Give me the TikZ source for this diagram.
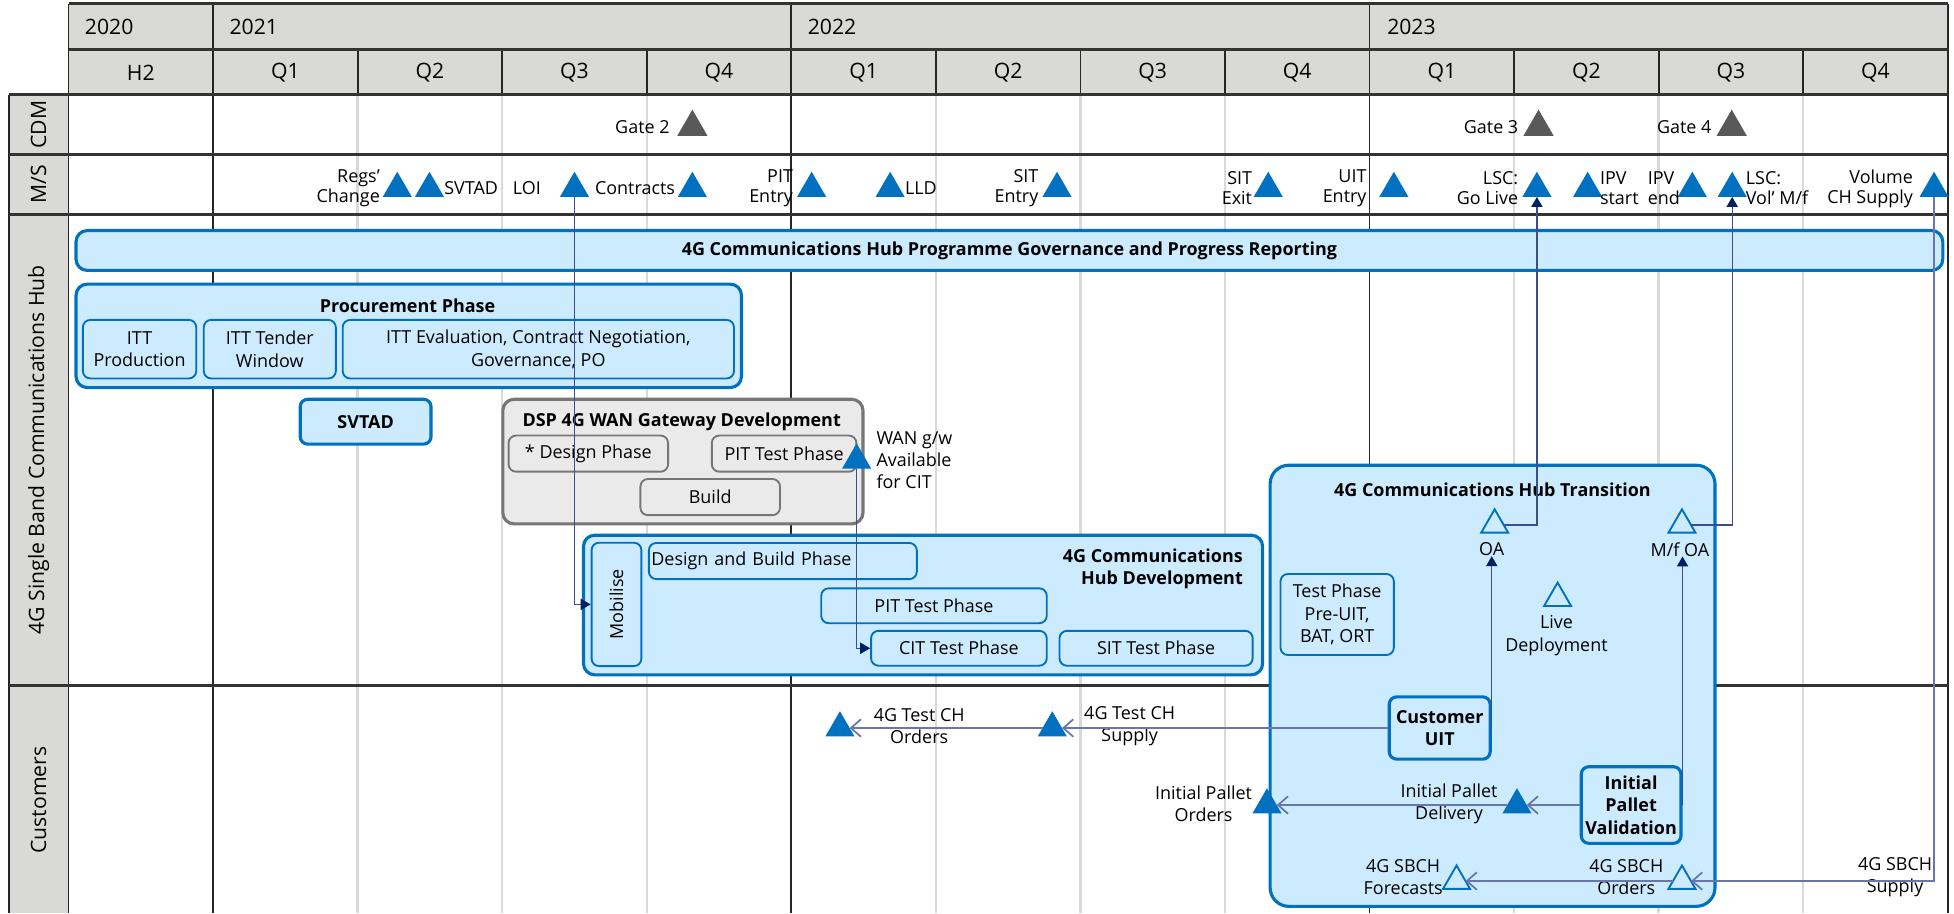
\documentclass[tikz,border=0pt]{standalone}
\usepackage{fontspec}
\setmainfont{Open Sans}
\usepackage{xcolor}
\usepackage{tikz}
\usetikzlibrary{arrows.meta}
\usetikzlibrary{positioning}
\usetikzlibrary{shapes.geometric}
\definecolor{hdr}{RGB}{217,218,216}
\definecolor{grd}{RGB}{217,217,217}
\definecolor{bfill}{RGB}{204,235,255}
\definecolor{bline}{RGB}{0,112,192}
\definecolor{gfill}{RGB}{234,234,234}
\definecolor{gline}{RGB}{118,118,118}
\definecolor{gatec}{RGB}{89,89,89}
\definecolor{conn}{RGB}{60,76,145}
\definecolor{tipc}{RGB}{0,32,96}
\definecolor{slate}{RGB}{105,118,170}
\newcommand{\ftbody}{\fontsize{14.4}{18}\selectfont}
\newcommand{\ftms}{\fontsize{14.4}{16}\selectfont}
\newcommand{\fthd}{\fontsize{17}{20}\selectfont}
\newcommand{\ftside}{\fontsize{17}{20}\selectfont}
\tikzset{
    msm/.style = {regular polygon, regular polygon sides=3, fill=bline, minimum size=27pt, inner sep=0pt, outer sep=0pt},
    gatem/.style = {msm, fill=gatec, minimum size=28pt},
    openm/.style = {regular polygon, regular polygon sides=3, draw=bline, line width=1.5pt, fill=bfill, minimum size=25pt, inner sep=0pt, outer sep=0pt},
    lbl/.style = {font=\ftbody, inner sep=0pt, align=center},
    mslbl/.style = {font=\ftms, inner sep=0pt},
    hdlbl/.style = {font=\fthd, inner sep=0pt},
    sidelbl/.style = {font=\ftside, inner sep=0pt, rotate=90},
    ttl/.style = {lbl, font=\ftbody\bfseries},
    grpbox/.style = {draw=bline, line width=2.5pt, fill=bfill, rounded corners=9pt, inner sep=0pt, font=\ftbody\bfseries, align=center},
    subbox/.style = {lbl, draw=bline, line width=1.5pt, fill=bfill, rounded corners=6pt},
    keybox/.style = {subbox, line width=2.5pt, font=\ftbody\bfseries},
    ggrpbox/.style = {grpbox, draw=gline, fill=gfill},
    gsubbox/.style = {subbox, draw=gline, fill=gfill},
    flowln/.style = {conn, line width=1pt, -{Triangle[length=8pt, width=9pt, color=tipc]}},
    feedln/.style = {slate, line width=1.4pt, -{Straight Barb[length=8pt, width=14pt]}},
    >=Latex
}
\begin{document}
\begin{tikzpicture}[x=1pt, y=-1pt]
\useasboundingbox (0,0) rectangle (1568,733);
\fill[hdr] (55,3) rectangle (1563,76);
\fill[hdr] (7,76) rectangle (55,733);
\foreach \x in {287,403,519,751,867,983,1215,1331,1447} {
    \draw[grd, line width=2pt] (\x,76) -- (\x,733);
    \draw[black!85, line width=1.5pt] (\x,40) -- (\x,76);
}
\foreach \x in {55,171,635,1099,1563} {
    \draw[black!85, line width=1.5pt] (\x,3) -- (\x,733);
}
\draw[black!85, line width=1.5pt] (7,76) -- (7,733);
\foreach \y in {3,40} {
    \draw[black!80, line width=2.4pt] (55,\y) -- (1563,\y);
}
\foreach \y in {76,124,172,550} {
    \draw[black!80, line width=2.4pt] (7,\y) -- (1563,\y);
}
\node[hdlbl, anchor=west] (y20) at (68,22) {2020};
\node[hdlbl, anchor=west] (y21) at (184,22) {2021};
\node[hdlbl, anchor=west] (y22) at (648,22) {2022};
\node[hdlbl, anchor=west] (y23) at (1113,22) {2023};
\foreach \x/\q in {113/H2, 229/Q1, 345/Q2, 461/Q3, 577/Q4, 693/Q1, 809/Q2, 925/Q3, 1041/Q4, 1157/Q1, 1273/Q2, 1389/Q3, 1505/Q4} {
    \node[hdlbl] (q\x) at (\x,58.5) {\q};
}
\node[sidelbl] (scdm) at (31,100) {CDM};
\node[sidelbl] (sms) at (31,148) {M/S};
\node[sidelbl] (shub) at (31,361) {4G Single Band Communications Hub};
\node[sidelbl] (scus) at (31,642) {Customers};

\node[gatem] (g2) at (555.6,102) {};
\node[gatem] (g3) at (1234.6,102) {};
\node[gatem] (g4) at (1389.6,102) {};
\node[mslbl, left=10pt of g2] (g2l) {Gate 2};
\node[mslbl, left=8pt of g3] (g3l) {Gate 3};
\node[mslbl, left=8pt of g4] (g4l) {Gate 4};

\foreach \n/\x in {m1/318.8, m2/344.6, m3/461, m4/555.6, m5/651.3, m6/714.3, m7/848.2, m8/1017.7, m9/1118.5, m10/1233.3, m11/1274, m12/1358, m13/1390, m14/1552} {
    \node[msm] (\n) at (\x,151.3) {};
}
\node[mslbl, align=right, left=6pt of m1] (l1) {Regs’\\Change};
\node[mslbl, right=4pt of m2] (l2) {SVTAD};
\node[mslbl, left=19pt of m3] (l3) {LOI};
\node[mslbl, left=6pt of m4] (l4) {Contracts};
\node[mslbl, align=right, left=7pt of m5] (l5) {PIT\\Entry};
\node[mslbl, right=4pt of m6] (l6) {LLD};
\node[mslbl, align=right, left=7pt of m7] (l7) {SIT\\Entry};
\node[mslbl, align=right, left=5pt of m8] (l8) {SIT\\Exit};
\node[mslbl, align=right, left=14pt of m9] (l9) {UIT\\Entry};
\node[mslbl, align=right, left=7pt of m10] (l10) {LSC:\\Go Live};
\node[mslbl, align=left, right=2pt of m11] (l11) {IPV\\start};
\node[mslbl, align=left, left=2pt of m12] (l12) {IPV\\end};
\node[mslbl, align=left, right=3pt of m13] (l13) {LSC:\\Vol’ M/f};
\node[mslbl, align=right, left=9pt of m14] (l14) {Volume\\CH Supply};

\node[grpbox, minimum width=1498pt, minimum height=32pt] (gov) at (810,201) {4G Communications Hub Programme Governance and Progress Reporting};
\node[grpbox, minimum width=534pt, minimum height=83pt] (proc) at (328,269.5) {};
\node[ttl] (proct) at (327,245.6) {Procurement Phase};
\node[subbox, minimum width=91pt, minimum height=47pt] (ittp) at (112,280.2) {ITT\\Production};
\node[subbox, minimum width=106pt, minimum height=47pt] (ittw) at (216.5,280.2) {ITT Tender\\Window};
\node[subbox, minimum width=314pt, minimum height=47pt] (itte) at (432,280.2) {ITT Evaluation, Contract Negotiation,\\Governance, PO};
\node[keybox, minimum width=105pt, minimum height=36pt] (svtad) at (293.4,338.4) {SVTAD};

\node[ggrpbox, minimum width=289pt, minimum height=100pt] (dsp) at (548,370.4) {};
\node[ttl] (dspt) at (547,338.4) {DSP 4G WAN Gateway Development};
\node[gsubbox, minimum width=128pt, minimum height=29pt] (dsgn) at (472.1,364) {* Design Phase};
\node[gsubbox, minimum width=116pt, minimum height=29pt] (pitg) at (629.2,364) {PIT Test Phase};
\node[gsubbox, minimum width=112pt, minimum height=29pt] (bld) at (569.9,398.9) {Build};
\node[msm] (mwan) at (687.4,369.3) {};
\node[lbl, align=left, right=8pt of mwan] (wanl) {WAN g/w\\Available\\for CIT};

\node[grpbox, minimum width=545pt, minimum height=112pt] (dev) at (740.7,485.5) {};
\node[ttl, align=right, anchor=east] (devt) at (997.5,456.5) {4G Communications\\Hub Development};
\node[subbox, minimum width=40pt, minimum height=99pt] (mob) at (494.7,485) {\rotatebox{90}{Mobilise}};
\node[subbox, minimum width=215pt, minimum height=29pt, text width=211pt, align=left] (dbp) at (628.2,450.2) {Design and Build Phase};
\node[subbox, minimum width=181pt, minimum height=28pt] (pitd) at (749.5,486.1) {PIT Test Phase};
\node[subbox, minimum width=141pt, minimum height=28pt] (cit) at (769.5,520.2) {CIT Test Phase};
\node[subbox, minimum width=155pt, minimum height=28pt] (sit) at (927.7,520.2) {SIT Test Phase};

\node[grpbox, minimum width=357pt, minimum height=354pt, rounded corners=15pt] (trans) at (1197.7,550.3) {};
\node[ttl] (transt) at (1197.6,392.7) {4G Communications Hub Transition};
\node[openm] (toa) at (1199.4,421.2) {};
\node[lbl] (oal) at (1197,440.8) {OA};
\node[openm] (tmfoa) at (1349.7,421.2) {};
\node[lbl] (mfoal) at (1348,440.8) {M/f OA};
\node[openm] (tlive) at (1249.9,480) {};
\node[lbl] (livel) at (1249,510) {Live\\Deployment};
\node[subbox, minimum width=91pt, minimum height=65pt] (testp) at (1073,493.1) {Test Phase\\Pre-UIT,\\BAT, ORT};
\node[keybox, minimum width=81pt, minimum height=50pt] (uit) at (1155.3,584.2) {Customer\\UIT};
\node[keybox, minimum width=80pt, minimum height=61.5pt] (ipv) at (1308.9,646) {Initial\\Pallet\\Validation};

\node[msm] (tsup) at (844.4,584.2) {};
\node[msm] (tord) at (674,584.2) {};
\node[lbl] (supl) at (906.5,582.7) {4G Test CH\\Supply};
\node[lbl] (ordl) at (737.6,582.7) {4G Test CH\\Orders};
\node[msm] (tdel) at (1217.3,646) {};
\node[msm] (tpo) at (1016.7,646) {};
\node[lbl] (dell) at (1162.8,645) {Initial Pallet\\Delivery};
\node[lbl] (pol) at (965.8,645) {Initial Pallet\\Orders};
\node[openm] (tsbo) at (1349.7,707) {};
\node[openm] (tsbf) at (1168.8,707) {};
\node[lbl] (sbol) at (1305,704) {4G SBCH\\Orders};
\node[lbl] (sbfl) at (1126,704) {4G SBCH\\Forecasts};
\node[lbl] (sbsl) at (1520.7,704) {4G SBCH\\Supply};

\draw[flowln] (m3.south) |- (mob.west);
\draw[flowln] (mwan.south) |- (cit.west);
\draw[flowln] (toa.east) -| (m10.south);
\draw[flowln] (tmfoa.east) -| (m13.south);
\draw[flowln] (uit.east) -- (uit.east |- oal.south);
\draw[flowln] (ipv.east) -- (ipv.east |- mfoal.south);
\draw[feedln] (uit) -- (tsup);
\draw[feedln] (tsup) -- (tord);
\draw[feedln] (ipv) -- (tdel);
\draw[feedln] (tdel) -- (tpo);
\draw[feedln] (m14.south) |- (tsbo);
\draw[feedln] (tsbo) -- (tsbf);
\end{tikzpicture}
\end{document}
